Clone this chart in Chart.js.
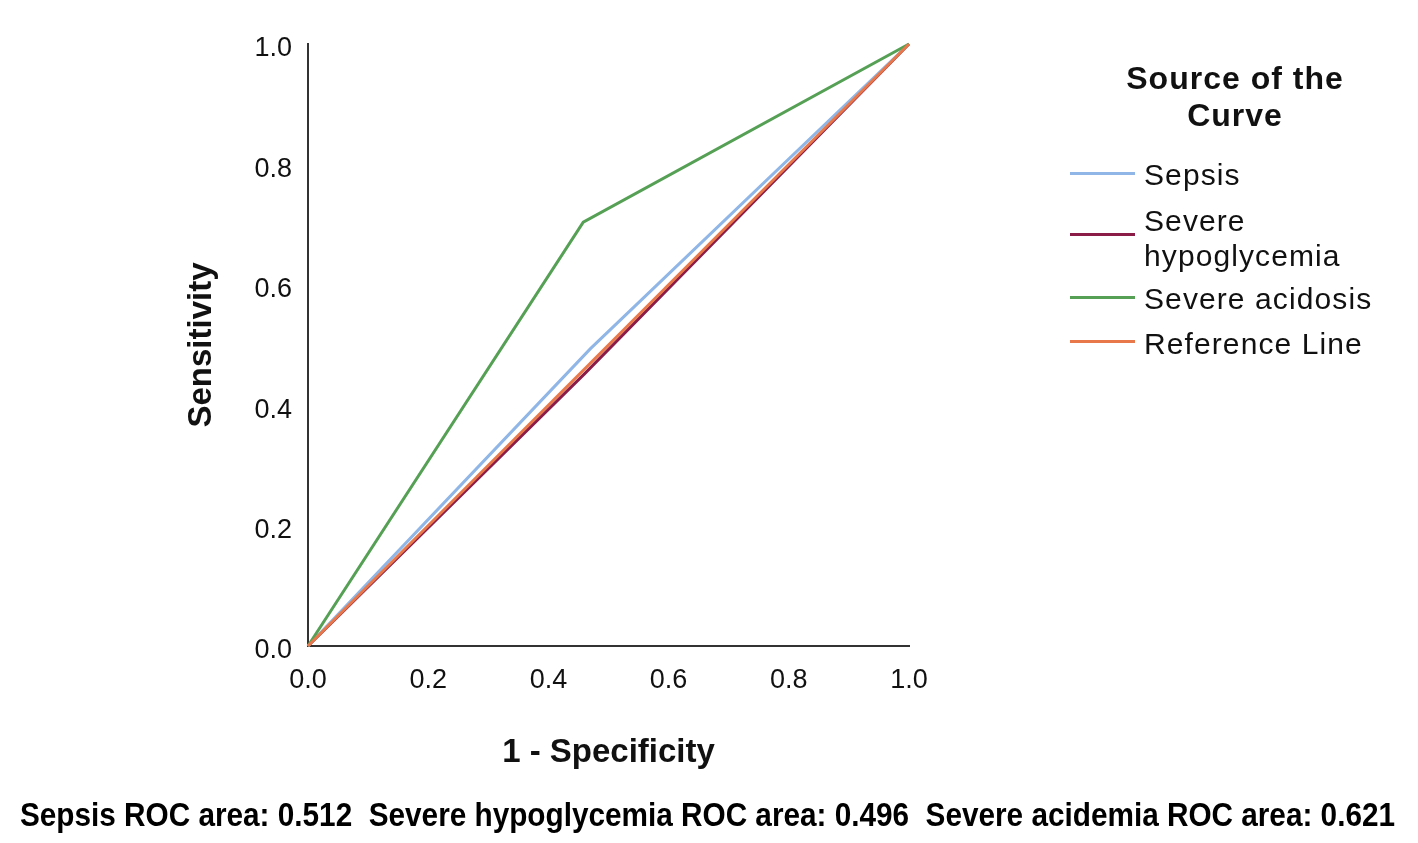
<!DOCTYPE html>
<html>
<head>
<meta charset="utf-8">
<script src="https://cdn.jsdelivr.net/npm/chart.js@4"></script>
<style>
  html, body { margin: 0; padding: 0; background: #fff; }
  #wrap { position: relative; width: 1418px; height: 843px; }
  canvas { position: absolute; left: 0; top: 0; }
  .legend { position: absolute; left: 1060px; top: 58px; width: 360px; font-family: "Liberation Sans", Arial, sans-serif; color: #111; }
  .legend h3 { margin: 0; padding-top: 2px; font-size: 32px; font-weight: bold; text-align: center; width: 350px; line-height: 37px; letter-spacing: 1px; }
  .item { position: absolute; left: 84px; font-size: 30px; line-height: 35px; letter-spacing: 1.1px; }
  .swatch { position: absolute; left: 10px; width: 65px; height: 3px; }
  #caption { position: absolute; left: 20px; top: 796px; font-family: "Liberation Sans Narrow", "Arial Narrow", "Liberation Sans", sans-serif; font-weight: bold; font-size: 33px; white-space: pre; transform-origin: 0 0; color: #000; }
</style>
</head>
<body>
<div id="wrap">
  <canvas id="roc" width="1418" height="843"></canvas>
  <div class="legend" id="legend">
    <h3>Source of the<br>Curve</h3>
  </div>
  <div id="caption"></div>
</div>
<script>
const seriesNames = ['Sepsis', 'Severe hypoglycemia', 'Severe acidosis', 'Reference Line'];
const seriesColors = ['#8fb6e6', '#8b1c47', '#55a055', '#e8774a'];

// 1 - specificity (x) and sensitivity (y) for each curve
const sepsisX = [0, 0.47, 1];
const sepsisY = [0, 0.494, 1];
const hypoX = [0, 0.46, 1];
const hypoY = [0, 0.452, 1];
const acidX = [0, 0.458, 1];
const acidY = [0, 0.704, 1];
const refX = [0, 1];
const refY = [0, 1];

const tickValues = [0, 0.2, 0.4, 0.6, 0.8, 1.0];
const rocAreas = ['0.512', '0.496', '0.621'];
const captionNames = ['Sepsis', 'Severe hypoglycemia', 'Severe acidemia'];

const pts = (xs, ys) => xs.map((x, i) => ({ x: x, y: ys[i] }));
const allX = [sepsisX, hypoX, acidX, refX];
const allY = [sepsisY, hypoY, acidY, refY];
const drawOrder = [2, 3, 1, 0];

const tickFont = { family: 'Liberation Sans, Arial, sans-serif', size: 27 };
const titleFont = { family: 'Liberation Sans, Arial, sans-serif', size: 33, weight: 'bold' };

let ctx = document.getElementById('roc').getContext('2d');
let chart = new Chart(ctx, {
  type: 'scatter',
  data: {
    datasets: seriesNames.map((name, i) => ({
      label: name,
      data: pts(allX[i], allY[i]),
      showLine: true,
      borderColor: seriesColors[i],
      backgroundColor: seriesColors[i],
      borderWidth: 3,
      pointRadius: 0,
      pointHoverRadius: 0,
      order: drawOrder[i],
      clip: false
    }))
  },
  options: {
    responsive: false,
    animation: false,
    layout: { padding: { left: 180, right: 509, top: 44, bottom: 67 } },
    plugins: { legend: { display: false }, tooltip: { enabled: false } },
    scales: {
      x: {
        type: 'linear', min: 0, max: 1,
        afterFit: s => { s.height = 130; },
        afterBuildTicks: s => { s.ticks = tickValues.map(v => ({ value: v })); },
        grid: { display: false, drawTicks: false },
        border: { display: true, color: '#333', width: 2 },
        ticks: { color: '#111', font: tickFont, padding: 18, callback: v => v.toFixed(1), maxRotation: 0 },
        title: { display: true, text: '1 - Specificity', color: '#111', font: titleFont, padding: { top: 0, bottom: 3 } }
      },
      y: {
        type: 'linear', min: 0, max: 1,
        afterFit: s => { s.width = 128; },
        afterBuildTicks: s => { s.ticks = tickValues.map(v => ({ value: v })); },
        grid: { display: false, drawTicks: false },
        border: { display: true, color: '#333', width: 2 },
        ticks: { color: '#111', font: tickFont, padding: 16, labelOffset: 5, callback: v => v.toFixed(1) },
        title: { display: true, text: 'Sensitivity', color: '#111', font: titleFont, padding: { top: 2, bottom: 0 } }
      }
    }
  }
});

// legend built from the same series names and colours
const legendTops = [157, 203, 281, 326];
const lineTops = [172, 233, 296, 340];
const legendLabels = ['Sepsis', 'Severe<br>hypoglycemia', 'Severe acidosis', 'Reference Line'];
const legend = document.getElementById('legend');
seriesNames.forEach((name, i) => {
  const sw = document.createElement('div');
  sw.className = 'swatch';
  sw.style.top = (lineTops[i] - 58) + 'px';
  sw.style.background = seriesColors[i];
  legend.appendChild(sw);
  const t = document.createElement('div');
  t.className = 'item';
  t.style.top = (legendTops[i] - 58) + 'px';
  t.innerHTML = legendLabels[i];
  legend.appendChild(t);
});

// caption with ROC areas
const cap = document.getElementById('caption');
cap.textContent = captionNames.map((n, i) => n + ' ROC area: ' + rocAreas[i]).join('  ');
const w = cap.getBoundingClientRect().width;
cap.style.transform = 'scaleX(' + (1375 / w) + ')';
</script>
</body>
</html>
